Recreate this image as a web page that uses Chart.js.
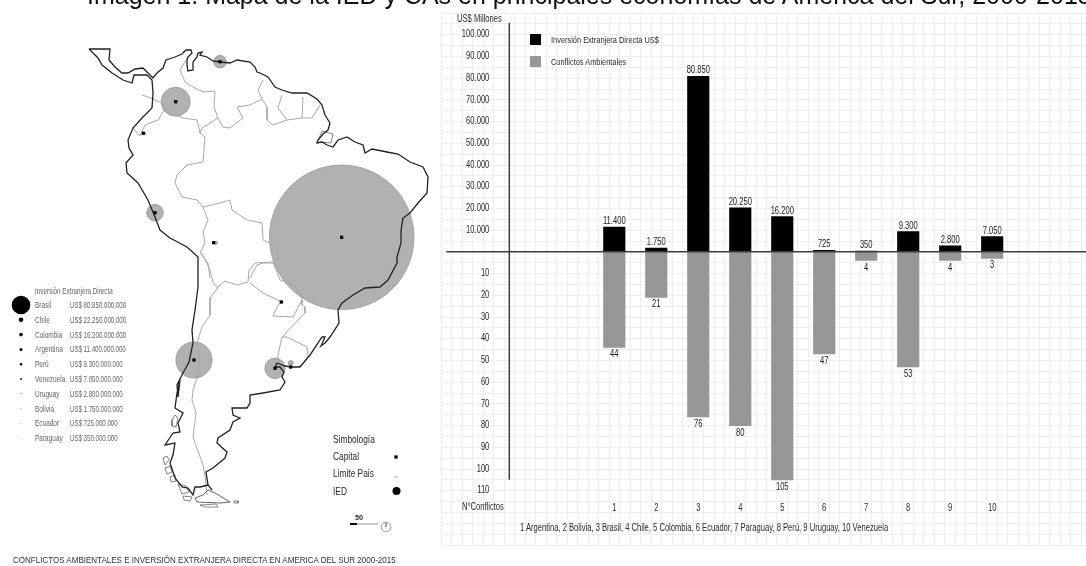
<!DOCTYPE html>
<html lang="es">
<head>
<meta charset="utf-8">
<title>Mapa de la IED y CAs</title>
<script src="https://cdn.jsdelivr.net/npm/chart.js@4/dist/chart.umd.min.js"></script>
<style>
html,body{margin:0;padding:0;background:#fff;overflow:hidden;width:1086px;height:566px}
#page{position:relative;width:1086px;height:566px;overflow:hidden;background:#fff;filter:blur(.35px)}
canvas{position:absolute;display:block}
#map{left:0;top:0}
#bars{left:446px;top:13px}
.t{position:absolute;white-space:nowrap;font-family:"Liberation Sans",Arial,sans-serif;line-height:1;transform-origin:0 50%;color:#2b2b2b}
.sw{position:absolute;width:11px;height:11px}
</style>
</head>
<body>
<div id="page">
<canvas id="map" width="440" height="566"></canvas>
<canvas id="bars" width="640" height="532"></canvas>
</div>
<script>
// ---------- bar chart data ----------
const categories = [1,2,3,4,5,6,7,8,9,10];
const countries = ["Argentina","Bolivia","Brasil","Chile","Colombia","Ecuador","Paraguay","Perú","Uruguay","Venezuela"];
const inversion = [11400,1750,80850,20250,16200,725,350,9300,2800,7050];
const conflictos = [44,21,76,80,105,47,4,53,4,3];
const tickMillones = [10000,20000,30000,40000,50000,60000,70000,80000,90000,100000];
const tickConflictos = [10,20,30,40,50,60,70,80,90,100,110];

// ---------- map data (map units) ----------
const coastNorth = [[89,49],[110,49],[109,60],[115,67],[122,73],[128,73],[135,69],[143,68],[148,73],[153,78],[157,73],[163,68],[166,60],[175,57],[182,54],[186,50],[191,50],[192,53],[188,57],[187,60],[187,65],[188,71],[193,70],[193,62],[197,57],[198,53],[202,52],[200,55],[207,57],[213,61],[220,62],[230,63],[237,60],[250,62],[255,67],[257,72],[260,73],[268,77],[275,87],[282,90],[292,93],[307,93],[317,99],[322,105],[325,115],[330,123],[328,130],[323,134],[318,140],[317,143],[322,142],[327,145],[333,147],[338,140],[347,137],[355,142],[363,145],[365,153],[372,149],[387,152],[398,154],[410,162],[423,167],[428,177],[427,193],[418,203],[410,213],[403,218],[401,230]];
const coastSouth = [[401,230],[401,243],[397,257],[397,263],[388,280],[380,287],[365,288],[353,295],[342,303],[338,310],[339,323],[330,337],[325,343],[321,346],[325,337],[322,337],[310,355],[300,367],[291,367],[285,366],[277,363],[275,367],[280,367],[284,372],[282,377],[285,382],[280,390],[263,393],[250,395],[250,403],[247,408],[232,408],[233,415],[240,418],[233,422],[230,430],[218,438],[217,443],[227,452],[225,458],[213,468],[206,472],[208,485],[212,490]];
const coastWest = [[89,49],[98,58],[102,65],[112,73],[123,80],[132,83],[134,75],[147,75],[152,80],[153,93],[152,108],[142,118],[133,128],[128,140],[129,148],[133,155],[126,163],[127,173],[138,183],[148,200],[155,217],[160,230],[170,238],[187,247],[198,257],[198,287],[195,310],[192,330],[193,343],[189,362],[183,373],[177,385],[178,397],[180,380],[177,393],[175,408],[183,413],[178,423],[180,432],[173,433],[165,445],[175,443],[173,455],[170,463],[175,478],[182,487],[188,488],[193,495],[195,487],[200,487],[208,485]];
const fuego = [[208,490],[215,493],[230,502],[220,503],[197,502],[195,498],[203,495],[208,490]];
const islands = [[[175,415],[172,420],[172,426],[176,427],[178,418],[175,415]],[[163,458],[167,456],[169,460],[165,465],[163,458]],[[165,468],[170,466],[172,472],[167,474],[165,468]],[[170,477],[175,475],[176,481],[171,482],[170,477]],[[178,484],[186,486],[189,492],[182,494],[178,484]],[[183,496],[192,497],[190,501],[184,500],[183,496]],[[200,505],[216,504],[218,507],[205,507],[200,505]],[[234,501],[238,501],[238,503],[234,503],[234,501]],[[317,143],[322,131],[333,134],[331,143],[322,142],[317,143]]];
const fronteras = [
 [[188,57],[180,70],[185,82],[193,87],[203,92],[215,91],[214,107],[218,118],[210,123],[202,128],[200,133],[205,137],[203,162],[187,165],[177,175],[175,183],[182,197],[197,200],[203,207],[220,203],[230,200],[232,210],[247,220],[262,223],[263,240],[277,247],[280,257],[273,263],[263,263],[257,265],[250,278]],
 [[218,118],[223,127],[230,128],[243,118],[237,107],[250,105],[262,99],[258,90],[263,80]],
 [[262,99],[267,107],[267,120],[273,125],[287,120],[278,108],[282,95]],
 [[287,120],[302,118],[303,97]],
 [[302,118],[312,118],[320,105]],
 [[132,127],[140,136],[145,125],[158,120],[165,108],[162,103],[148,97],[142,95]],
 [[162,103],[170,113],[183,118],[197,120],[199,128],[200,133]],
 [[203,207],[208,220],[203,232],[205,243],[200,253],[208,263],[210,278]],
 [[202,253],[210,270],[213,282],[218,288],[210,298],[210,315],[202,327],[197,343],[200,360],[197,378],[193,390],[192,400],[196,413],[193,437],[203,465],[205,475],[207,495]],
 [[218,287],[225,281],[237,285],[248,282],[249,270],[255,263],[273,262],[280,280],[286,282],[293,285],[300,293],[302,300],[293,317],[273,316],[278,305],[282,302],[263,293],[250,283]],
 [[302,300],[302,305],[305,307],[305,313],[282,337],[277,360]],
 [[282,337],[287,337],[307,347],[308,357],[300,367]]
];
const capitals = [[341.7,237.3],[175.7,101.7],[220,61.7],[155,212.7],[194,360],[275,368.3],[143.3,133.3],[213.7,242.7],[281.3,302],[290.7,367]];
const circleCentres = [[341.7,237.3],[175.7,101.7],[220,61.7],[155,212.7],[194,360],[275,368.3],[145.5,133.3],[216,242.7],[283,302],[290.7,363]];
const capitalValues = [80850,16200,7050,9300,20250,11400,725,1750,350,2800];
const legendCountries = ["Brasil","Chile","Colombia","Argentina","Perú","Venezuela","Uruguay","Bolivia","Ecuador","Paraguay"];
const legendValues = ["US$ 80.850.000.000","US$ 22.250.000.000","US$ 16.200.000.000","US$ 11.400.000.000","US$ 9.300.000.000","US$ 7.050.000.000","US$ 2.800.000.000","US$ 1.750.000.000","US$ 725.000.000","US$ 350.000.000"];
const legendRadii = [9.3,2.3,1.8,1.5,1.2,0.9,0.5,0.4,0.3,0.3];

Chart.defaults.animation = false;
Chart.defaults.responsive = false;
Chart.defaults.maintainAspectRatio = false;
Chart.defaults.plugins.legend.display = false;
Chart.defaults.plugins.tooltip.enabled = false;

// ---------- helper for real text ----------
const page = document.getElementById('page');
function put(text,x,y,size,opts){
  const o = opts||{};
  const d = document.createElement('div');
  d.className='t';
  d.textContent=text;
  d.style.left=x+'px'; d.style.top=y+'px'; d.style.fontSize=size+'px';
  d.style.transform='translateY(-50%) scaleX('+(o.sx||1)+')';
  if(o.color) d.style.color=o.color;
  if(o.weight) d.style.fontWeight=o.weight;
  if(o.spacing) d.style.letterSpacing=o.spacing;
  page.appendChild(d);
}

// ---------- bar chart ----------
const Y_MAX = 110000, Y_MIN = -135000, NARROW = 0.76;
const sans = '"Liberation Sans",Arial,sans-serif';
const fmt = v => String(v).replace(/\B(?=(\d{3})+$)/g,'.');

// the reference labels are condensed: squeeze canvas text around its anchor
const barCanvas = document.getElementById('bars');
const barCtx = barCanvas.getContext('2d');
const rawFill = barCtx.fillText;
barCtx.fillText = function(t,x,y,m){
  this.save(); this.translate(x,y); this.scale(NARROW,1);
  rawFill.call(this,t,0,0,m);
  this.restore();
};

const annotate = {
  id:'annotate',
  afterDatasetsDraw(chart){
    const {ctx,scales:{x,y}} = chart;
    ctx.save();
    ctx.strokeStyle='#3c3c3c';
    ctx.lineWidth=1.5;
    ctx.beginPath();
    ctx.moveTo(x.getPixelForValue(x.min),y.getPixelForValue(0));
    ctx.lineTo(x.getPixelForValue(x.max),y.getPixelForValue(0));
    ctx.moveTo(x.getPixelForValue(-1.5),y.getPixelForValue(105500));
    ctx.lineTo(x.getPixelForValue(-1.5),y.getPixelForValue(-105000));
    ctx.stroke();
    ctx.font='10px '+sans;
    ctx.fillStyle='#222';
    ctx.textAlign='center';
    ctx.textBaseline='alphabetic';
    chart.getDatasetMeta(0).data.forEach((b,i)=>ctx.fillText(fmt(inversion[i]),b.x,b.y-3));
    chart.getDatasetMeta(1).data.forEach((b,i)=>ctx.fillText(String(conflictos[i]),b.x,b.y+10));
    ctx.restore();
  }
};

const barChart = new Chart(barCtx,{
  type:'bar',
  data:{
    datasets:[
      {label:'Inversión Extranjera Directa US$',yAxisID:'y',backgroundColor:'#000',barThickness:21.5,grouped:false,
       data:categories.map((c,i)=>({x:c,y:inversion[i]}))},
      {label:'Conflictos Ambientales',yAxisID:'y2',backgroundColor:'#969696',barThickness:21.5,grouped:false,order:1,
       data:categories.map((c,i)=>({x:c,y:-conflictos[i]}))}
    ]
  },
  options:{
    layout:{padding:0,autoPadding:false},
    scales:{
      x:{type:'linear',min:-3,max:12.238,position:{y:-115300},
         border:{display:false},
         grid:{color:'#eeeeee',lineWidth:1,drawTicks:false},
         ticks:{stepSize:0.25,autoSkip:false,includeBounds:false,padding:0,maxRotation:0,color:'#2b2b2b',font:{family:sans,size:10},
           callback:v=>categories.includes(v)?String(v):''}},
      y:{type:'linear',min:Y_MIN,max:Y_MAX,position:{x:-1.976},
         border:{display:false},
         afterBuildTicks(s){
           const grid=[];
           for(let v=Y_MIN;v<=Y_MAX;v+=5000) grid.push({value:v});
           s.ticks=grid;
         },
         grid:{color:'#eeeeee',lineWidth:1,drawTicks:false},
         ticks:{autoSkip:false,padding:0,color:'#2b2b2b',font:{family:sans,size:10},
           callback(v){
             if(tickMillones.includes(v)) return fmt(v);
             if(v<0&&tickConflictos.includes(-v/1000)) return String(-v/1000);
             return '';
           }}},
      y2:{type:'linear',min:Y_MIN/1000,max:Y_MAX/1000,display:false}
    }
  },
  plugins:[annotate]
});
// the axes keep small insets for their first and last labels: grow the canvas by them,
// so that the scale ends land on the wanted region of the page (446..1086, 13..545)
{
  const W = barChart.width, H = barChart.height;
  const sx = barChart.scales.x, sy = barChart.scales.y;
  const dl = sx.getPixelForValue(sx.min), dr = W-sx.getPixelForValue(sx.max);
  const dt = sy.getPixelForValue(sy.max), db = H-sy.getPixelForValue(sy.min);
  barCanvas.style.left = (446-dl)+'px';
  barCanvas.style.top = (13-dt)+'px';
  barChart.resize(W+dl+dr,H+dt+db);
}

// ---------- map ----------
const line = (pts,color,width)=>({type:'scatter',showLine:true,pointRadius:0,borderColor:color,borderWidth:width,tension:0,fill:false,
  data:pts.map(p=>({x:p[0],y:p[1]}))});
const K = 72.3/80850;
// Chart.js paints the first dataset on top, so the list runs from top to bottom
const mapSets = [
  {type:'scatter',pointStyle:'rect',pointRadius:2.3,pointBackgroundColor:'#000',pointBorderWidth:0,
   data:capitals.map(p=>({x:p[0],y:p[1]}))},
  {type:'bubble',backgroundColor:'#000',borderWidth:0,
   data:legendRadii.map((r,i)=>({x:21,y:305+i*14.8,r:r}))},
  {type:'scatter',pointStyle:'rect',pointRadius:2.3,pointBackgroundColor:'#000',pointBorderWidth:0,data:[{x:396,y:457}]},
  {type:'scatter',pointStyle:'circle',pointRadius:4,pointBackgroundColor:'#000',pointBorderWidth:0,data:[{x:396.5,y:491}]},
  line([[394,477],[398,477]],'#aaa',1),
  line([[350,524],[357,524]],'#000',2),
  line([[357,524],[378,524]],'#999',1),
  line([[386,522.5],[386,527]],'#888',.8),
  {type:'scatter',pointStyle:'circle',pointRadius:4.8,pointBackgroundColor:'#fff',pointBorderColor:'#888',pointBorderWidth:.8,data:[{x:386,y:527}]},
  line(coastNorth,'#222',1.3),
  line(coastSouth,'#222',1.3),
  line(coastWest,'#222',1.3),
  line(fuego,'#555',.9),
  ...islands.map(f=>line(f,'#666',.8)),
  ...fronteras.map(f=>line(f,'#a8a8a8',1)),
  {type:'bubble',backgroundColor:'#b1b1b1',borderColor:'#8f8f8f',borderWidth:.7,
   data:circleCentres.map((p,i)=>({x:p[0],y:p[1],r:capitalValues[i]*K}))}
];
new Chart(document.getElementById('map'),{
  data:{datasets:mapSets},
  options:{
    layout:{padding:0,autoPadding:false},
    clip:false,
    scales:{
      x:{type:'linear',min:0,max:440,display:false},
      y:{type:'linear',min:0,max:566,reverse:true,display:false}
    }
  }
});

// ---------- texts ----------
put('Imagen 1. Mapa de la IED y CAs en principales economías de América del Sur, 2000-2015',87,-4.7,25,{color:'#111'});
put('US$ Millones',456.5,19,10,{sx:NARROW});
put('N°Conflictos',462,507,10,{sx:NARROW});
put('Inversión Extranjera Directa US$',551,40,9.5,{sx:.78});
put('Conflictos Ambientales',551,62,9.5,{sx:.78});
put(countries.map((c,i)=>categories[i]+' '+c).join(', ').replace('7 Paraguay','7  Paraguay'),520,528,10,{sx:NARROW});
[['#000',34],['#969696',56]].forEach(([c,y])=>{
  const s=document.createElement('div');s.className='sw';s.style.left='530px';s.style.top=y+'px';s.style.background=c;page.appendChild(s);
});
put('Inversión Extranjera Directa',35,291,9,{color:'#666',sx:.7});
legendCountries.forEach((c,i)=>{
  put(c,35,305+i*14.8,9,{color:'#666',sx:.72});
  put(legendValues[i],70,305+i*14.8,9,{color:'#666',sx:.68});
});
put('Simbología',333,439,11,{sx:NARROW});
put('Capital',333,456,11,{sx:NARROW});
put('Limite Pais',333,473,11,{sx:NARROW});
put('IED',333,491,11,{sx:NARROW});
put('50',355,518,8,{weight:'bold',sx:.9});
put('CONFLICTOS AMBIENTALES E INVERSIÓN EXTRANJERA DIRECTA EN AMERICA DEL SUR 2000-2015',13,561,8.2,{color:'#333',sx:.98});
</script>
</body>
</html>
